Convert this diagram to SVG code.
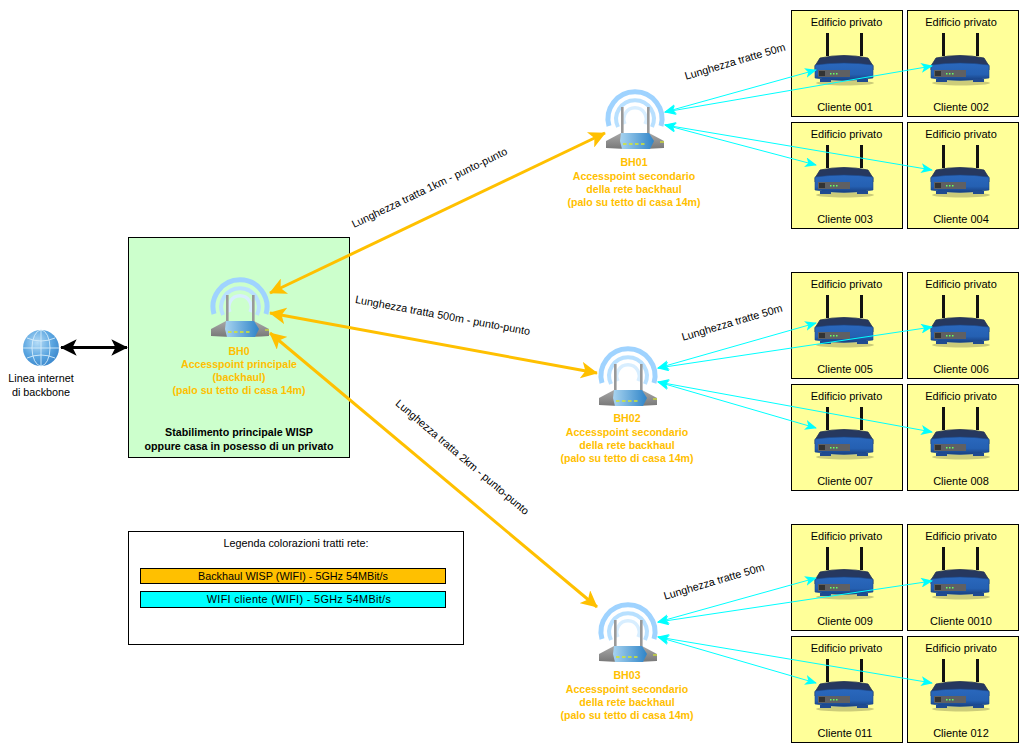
<svg xmlns="http://www.w3.org/2000/svg" xmlns:xlink="http://www.w3.org/1999/xlink" width="1019" height="751" viewBox="0 0 1019 751">
<style>
text{font-family:"Liberation Sans",Arial,sans-serif;font-size:10.8px;fill:#000;text-anchor:middle}
.o{fill:#ffc000;font-weight:700;font-size:10.6px}
.h{font-weight:700;font-size:10.7px}
.e{font-size:11px}
.b{stroke:#000;stroke-width:1;fill:#ffff99}
.c{stroke:#00ffff;stroke-width:1;fill:none;marker-start:url(#mc);marker-end:url(#mc)}
.g{stroke:#ffc000;stroke-width:3;fill:none;marker-start:url(#mg);marker-end:url(#mg)}
</style>
<defs>
<marker id="mc" viewBox="0 0 12 10" refX="11" refY="5" markerWidth="12" markerHeight="10" markerUnits="userSpaceOnUse" orient="auto-start-reverse"><path d="M0 0L12 5L0 10L3 5Z" fill="#00ffff"/></marker>
<marker id="mg" viewBox="0 0 10 10" refX="9.500" refY="5" markerWidth="5.600" markerHeight="5.600" orient="auto-start-reverse"><path d="M0 0L10 5L0 10L2.500 5Z" fill="#ffc000"/></marker>
<marker id="mk" viewBox="0 0 10 10" refX="9.500" refY="5" markerWidth="6" markerHeight="5.500" orient="auto-start-reverse"><path d="M0 0L10 5L0 10L2.500 5Z" fill="#000"/></marker>
<linearGradient id="rb" x1="0" y1="0" x2="0" y2="1"><stop offset="0" stop-color="#2a68bd"/><stop offset=".65" stop-color="#2560b2"/><stop offset="1" stop-color="#173f80"/></linearGradient>
<linearGradient id="ag" x1="0" y1="0" x2="0" y2="1"><stop offset="0" stop-color="#a8a8a8"/><stop offset="1" stop-color="#787878"/></linearGradient>
<linearGradient id="ab" x1="0" y1="0" x2="1" y2="0"><stop offset="0" stop-color="#a8d4f0"/><stop offset="1" stop-color="#2f84c8"/></linearGradient>
<radialGradient id="gl" cx=".4" cy=".35" r=".7"><stop offset="0" stop-color="#b5dcf7"/><stop offset=".6" stop-color="#5aa5e0"/><stop offset="1" stop-color="#3a86cc"/></radialGradient>
<g id="router">
<ellipse cx="1" cy="27" rx="29" ry="2.500" fill="#000" opacity=".2"/>
<rect x="-18" y="-23" width="3" height="23" fill="#111"/><rect x="16" y="-23" width="3" height="23" fill="#111"/>
<path d="M-24 2Q0 -3 24 2L29 10V14H-29V10Z" fill="#26385f" stroke="#1f2f50" stroke-width=".8"/>
<path d="M-29 9Q0 5 29 9L29 22Q0 27 -29 22Z" fill="url(#rb)" stroke="#1b4688" stroke-width=".6"/>
<rect x="-26" y="14" width="32" height="7" fill="#5f6063"/><rect x="-25" y="15" width="6" height="5" fill="#333"/>
<rect x="-14" y="17" width="1.500" height="1.500" fill="#6f6"/><rect x="-11" y="17" width="1.500" height="1.500" fill="#6f6"/><rect x="-8" y="17" width="1.500" height="1.500" fill="#6f6"/>
<rect x="-24" y="23" width="11" height="3" fill="#1f4a90"/><rect x="13" y="23" width="11" height="3" fill="#1f4a90"/>
</g>
<g id="ap">
<g fill="none">
<path d="M-26 5A27 27 0 1 1 26 5" stroke="#9fd3ff" stroke-width="5"/>
<path d="M-17 6A18.800 18.800 0 1 1 17 6" stroke="#b8e0ff" stroke-width="4"/>
<path d="M-10 3A11.200 11.200 0 1 1 10 3" stroke="#d8eeff" stroke-width="3.500"/>
</g>
<rect x="-14" y="-14" width="2.600" height="28" fill="#999"/><rect x="12" y="-14" width="2.600" height="28" fill="#999"/>
<path d="M-14 12H14L29 20V27Q0 29 -29 27V20Z" fill="url(#ag)"/>
<path d="M-14 12H14L19 20L15 28H-13L-15 20Z" fill="url(#ab)"/>
<path d="M-12 23H12" stroke="#d7e82a" stroke-width="1.400" stroke-dasharray="3.500 2.500"/>
<path d="M25 21H29" stroke="#d7e82a" stroke-width="1.200"/>
</g>
</defs>
<rect width="1019" height="751" fill="#fff"/>
<g id="stabilimento"><rect x="128.500" y="237.500" width="221" height="220" fill="#ccffcc" stroke="#000"/>
<text class="h" x="239" y="436">Stabilimento principale WISP</text><text class="h" x="239" y="450">oppure casa in posesso di un privato</text></g>
<g id="clients">
<g id="c001"><rect class="b" x="791.500" y="10.500" width="111" height="106"/><text class="e" x="846.500" y="26">Edificio privato</text><use xlink:href="#router" href="#router" x="844" y="56"/><text class="e" x="845" y="111">Cliente 001</text></g>
<g id="c002"><rect class="b" x="907.500" y="10.500" width="111" height="106"/><text class="e" x="961" y="26">Edificio privato</text><use xlink:href="#router" href="#router" x="960" y="56"/><text class="e" x="961" y="111">Cliente 002</text></g>
<g id="c003"><rect class="b" x="791.500" y="122.500" width="111" height="106"/><text class="e" x="846.500" y="138">Edificio privato</text><use xlink:href="#router" href="#router" x="844" y="168"/><text class="e" x="845" y="223">Cliente 003</text></g>
<g id="c004"><rect class="b" x="907.500" y="122.500" width="111" height="106"/><text class="e" x="961" y="138">Edificio privato</text><use xlink:href="#router" href="#router" x="960" y="168"/><text class="e" x="961" y="223">Cliente 004</text></g>
<g id="c005"><rect class="b" x="791.500" y="272.500" width="111" height="106"/><text class="e" x="846.500" y="288">Edificio privato</text><use xlink:href="#router" href="#router" x="844" y="318"/><text class="e" x="845" y="373">Cliente 005</text></g>
<g id="c006"><rect class="b" x="907.500" y="272.500" width="111" height="106"/><text class="e" x="961" y="288">Edificio privato</text><use xlink:href="#router" href="#router" x="960" y="318"/><text class="e" x="961" y="373">Cliente 006</text></g>
<g id="c007"><rect class="b" x="791.500" y="384.500" width="111" height="106"/><text class="e" x="846.500" y="400">Edificio privato</text><use xlink:href="#router" href="#router" x="844" y="430"/><text class="e" x="845" y="485">Cliente 007</text></g>
<g id="c008"><rect class="b" x="907.500" y="384.500" width="111" height="106"/><text class="e" x="961" y="400">Edificio privato</text><use xlink:href="#router" href="#router" x="960" y="430"/><text class="e" x="961" y="485">Cliente 008</text></g>
<g id="c009"><rect class="b" x="791.500" y="524.500" width="111" height="106"/><text class="e" x="846.500" y="540">Edificio privato</text><use xlink:href="#router" href="#router" x="844" y="570"/><text class="e" x="845" y="625">Cliente 009</text></g>
<g id="c010"><rect class="b" x="907.500" y="524.500" width="111" height="106"/><text class="e" x="961" y="540">Edificio privato</text><use xlink:href="#router" href="#router" x="960" y="570"/><text class="e" x="961" y="625">Cliente 0010</text></g>
<g id="c011"><rect class="b" x="791.500" y="636.500" width="111" height="106"/><text class="e" x="846.500" y="652">Edificio privato</text><use xlink:href="#router" href="#router" x="844" y="682"/><text class="e" x="845" y="737">Cliente 011</text></g>
<g id="c012"><rect class="b" x="907.500" y="636.500" width="111" height="106"/><text class="e" x="961" y="652">Edificio privato</text><use xlink:href="#router" href="#router" x="960" y="682"/><text class="e" x="961" y="737">Cliente 012</text></g>
</g>
<g id="BH0"><use xlink:href="#ap" href="#ap" x="240" y="309"/><text class="o" x="239" y="355">BH0</text><text class="o" x="239" y="368">Accesspoint principale</text><text class="o" x="239" y="381">(backhaul)</text><text class="o" x="239" y="394">(palo su tetto di casa 14m)</text></g>
<g id="BH01"><use xlink:href="#ap" href="#ap" x="635" y="121"/><text class="o" x="634" y="166">BH01</text><text class="o" x="634" y="180">Accesspoint secondario</text><text class="o" x="634" y="193">della rete backhaul</text><text class="o" x="634" y="206">(palo su tetto di casa 14m)</text></g>
<g id="BH02"><use xlink:href="#ap" href="#ap" x="628" y="378"/><text class="o" x="627" y="422">BH02</text><text class="o" x="627" y="436">Accesspoint secondario</text><text class="o" x="627" y="449">della rete backhaul</text><text class="o" x="627" y="462">(palo su tetto di casa 14m)</text></g>
<g id="BH03"><use xlink:href="#ap" href="#ap" x="628" y="634"/><text class="o" x="627" y="679">BH03</text><text class="o" x="627" y="693">Accesspoint secondario</text><text class="o" x="627" y="706">della rete backhaul</text><text class="o" x="627" y="719">(palo su tetto di casa 14m)</text></g>
<g id="internet"><circle cx="41" cy="348" r="18" fill="url(#gl)"/><g fill="none" stroke="#d5ecfb" stroke-width=".9"><ellipse cx="41" cy="348" rx="9" ry="18"/><path d="M23 348H59M41 330V366M27 338Q41 344 55 338M27 358Q41 352 55 358"/></g><text x="41" y="382">Linea internet</text><text x="41" y="396">di backbone</text></g>
<g id="connectors">
<path d="M61 347.500H127" stroke="#000" stroke-width="3" marker-start="url(#mk)" marker-end="url(#mk)"/>
<path class="g" d="M270 293L605 133"/>
<path class="g" d="M270 313L597 373"/>
<path class="g" d="M270 333L597 607"/>
<path class="c" d="M665 112L816 70"/><path class="c" d="M665 112L932 66"/><path class="c" d="M665 125L816 165"/><path class="c" d="M665 125L932 170"/>
<path class="c" d="M658 368L816 323"/><path class="c" d="M658 368L932 327"/><path class="c" d="M658 382L816 428"/><path class="c" d="M658 382L932 432"/>
<path class="c" d="M658 622L816 578"/><path class="c" d="M658 622L932 581"/><path class="c" d="M658 637L816 683"/><path class="c" d="M658 637L932 683"/>
</g>
<g id="labels">
<text transform="translate(431,191) rotate(-25.700)">Lunghezza tratta 1km - punto-punto</text>
<text transform="translate(442,319) rotate(10.500)">Lunghezza tratta 500m - punto-punto</text>
<text transform="translate(460,460) rotate(40.400)">Lunghezza tratta 2km - punto-punto</text>
<text transform="translate(736,65) rotate(-16.500)">Lunghezza tratte 50m</text>
<text transform="translate(733,326) rotate(-16.500)">Lunghezza tratte 50m</text>
<text transform="translate(715,585) rotate(-16.500)">Lunghezza tratte 50m</text>
</g>
<g id="legenda"><rect x="128.500" y="531.500" width="335" height="113" fill="#fff" stroke="#000"/><text x="296" y="547">Legenda colorazioni tratti rete:</text>
<rect x="140.500" y="568.500" width="305" height="15" fill="#ffc000" stroke="#000"/><text x="293" y="580">Backhaul WISP (WIFI) - 5GHz 54MBit/s</text>
<rect x="140.500" y="591.500" width="305" height="16" fill="#00ffff" stroke="#000"/><text x="299" y="603" style="letter-spacing:.35px">WIFI cliente (WIFI) - 5GHz 54MBit/s</text></g>
</svg>
